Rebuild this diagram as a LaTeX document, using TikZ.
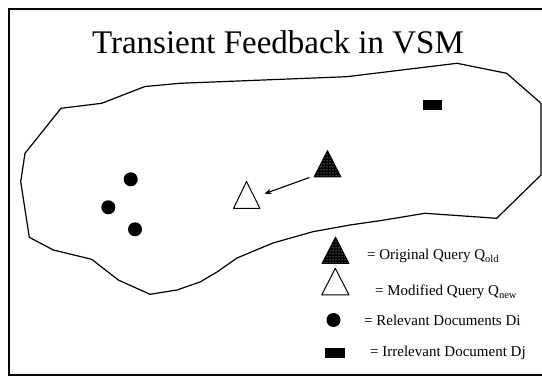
\documentclass[tikz,border=0pt]{standalone}
\usepackage{fontspec}
\setmainfont{Liberation Serif}
\usetikzlibrary{patterns,arrows.meta}
\begin{document}
\begin{tikzpicture}[x=1pt,y=-1pt,
  framestyle/.style={line width=1.5pt},
  outline/.style={line width=1.2pt, line join=round},
  hatched/.style={preaction={fill=black}, pattern=dots, pattern color=white, draw=black, line width=0.8pt, line join=round},
  opentri/.style={draw=black, line width=1pt, fill=white, line join=round},
  reldoc/.style={circle, fill=black, inner sep=0pt, minimum size=14pt},
  irrdoc/.style={rectangle, fill=black, inner sep=0pt, minimum width=19pt, minimum height=10pt},
  legtext/.style={anchor=base west, inner sep=0pt, font=\fontsize{15}{17}\selectfont},
  movearrow/.style={line width=1.1pt, -{Stealth[length=7pt,width=5.5pt]}},
]
\useasboundingbox (0,0) rectangle (542,377);
\draw[framestyle] (542,9) -- (9,9) -- (9,375) -- (542,375);

\node[anchor=base, inner sep=0pt, font=\fontsize{33}{37}\selectfont] (title) at (278,54) {Transient Feedback in VSM};

\draw[outline] (61,108.3) -- (101.7,103.3) -- (145,86.5) -- (180,83.3) -- (346.7,76.7) -- (457,63.3) -- (506.7,73.3) -- (541,103.3) -- (541,175) -- (496.7,218.3) -- (425,213.3) -- (380,220.7) -- (350,225) -- (313,231.7) -- (273,243) -- (237,258) -- (217,272) -- (200,282) -- (177,290) -- (150,294.3) -- (118.3,280) -- (91.7,259.3) -- (53.3,250) -- (29.3,237.3) -- (20.7,181.7) -- (25,153.3) -- cycle;

% documents
\node[irrdoc] (dj) at (432,105) {};
\node[reldoc] (d1) at (130.7,179.3) {};
\node[reldoc] (d2) at (108.3,207.3) {};
\node[reldoc] (d3) at (135,229.3) {};

% queries
\path[hatched] (314,177) -- (327.5,150.5) -- (341,177) -- cycle;
\path[opentri] (233.5,208.5) -- (246.5,181.5) -- (260,208.5) -- cycle;
\coordinate (arrS) at (309.5,177.5);
\coordinate (arrE) at (264.5,193.7);
\draw[movearrow] (arrS) -- (arrE);

% legend
\path[hatched] (322,263.5) -- (335.5,237) -- (349,263.5) -- cycle;
\path[opentri] (321.7,295) -- (335.3,268.3) -- (349,295) -- cycle;
\node[reldoc] (legdot) at (333.5,320) {};
\node[irrdoc, minimum width=20pt] (legrect) at (335,353.3) {};

\node[legtext] (lqold) at (367,260) {= Original Query Q\textsubscript{old}};
\node[legtext] (lqnew) at (375,296) {= Modified Query Q\textsubscript{new}};
\node[legtext] (ldi) at (364,326) {= Relevant Documents Di};
\node[legtext] (ldj) at (370,357) {= Irrelevant Document Dj};
\end{tikzpicture}
\end{document}
